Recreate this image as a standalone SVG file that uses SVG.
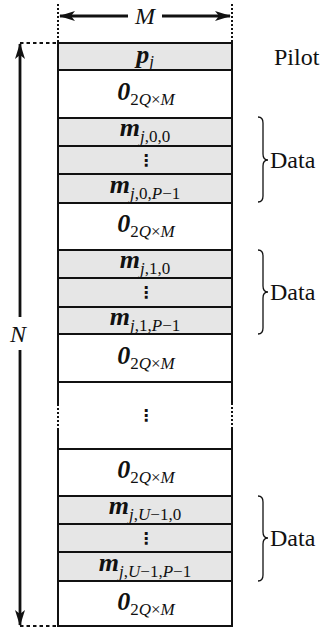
<svg xmlns="http://www.w3.org/2000/svg" width="326" height="629" viewBox="0 0 326 629">
<style>
.row{stroke:#111;stroke-width:2}
.g{fill:#e6e6e6}
.w{fill:#fff}
.side{stroke:#111;stroke-width:2;fill:none}
.dot{stroke:#111;stroke-width:2;fill:none;stroke-dasharray:2 2}
.dash{stroke:#111;stroke-width:1.8;fill:none;stroke-dasharray:3.5 3}
.arr{stroke:#111;stroke-width:2.8;fill:none;marker-end:url(#ah)}
.brace{stroke:#111;stroke-width:1.3;fill:none}
text{font-family:"Liberation Serif","Times New Roman",serif;fill:#111}
.lbl{font-size:24px}
.it{font-style:italic}
.b{font-weight:bold;font-style:italic;font-size:26px}
.s{font-style:italic;font-size:17px;font-weight:normal}
.u{font-style:normal}
.vd{font-family:"DejaVu Sans",sans-serif;font-size:16px;font-weight:bold}
</style>
<defs>
<marker id="ah" viewBox="0 0 16 10" refX="15" refY="5" markerWidth="16" markerHeight="10" orient="auto" markerUnits="userSpaceOnUse">
<path d="M0,0 L16,5 L0,10 L4,5 z" fill="#111"/>
</marker>
</defs>
<g id="connectors">
<path class="dot" d="M58,4 V43 M232,4 V43"/>
<path class="dash" d="M20,43 H58 M20,626 H58"/>
<path class="arr" d="M128,16 H60"/>
<path class="arr" d="M162,16 H230"/>
<path class="arr" d="M20,317 V44"/>
<path class="arr" d="M20,350 V625"/>
</g>
<g id="labels">
<text class="lbl it" x="18" y="342" text-anchor="middle">N</text>
<text class="lbl it" x="145" y="24" text-anchor="middle">M</text>
</g>
<g id="pilot">
<rect class="row g" x="58" y="43" width="174" height="27"/>
<text x="145" y="63" text-anchor="middle"><tspan class="b">p</tspan><tspan class="s" dy="4">j</tspan></text>
</g>
<g id="zero1">
<rect class="row w" x="58" y="70" width="174" height="48"/>
<text x="146" y="100" text-anchor="middle"><tspan class="b">0</tspan><tspan class="s" dy="5"><tspan class="u">2</tspan>Q<tspan class="u">×</tspan>M</tspan></text>
</g>
<g id="m00">
<rect class="row g" x="58" y="118" width="174" height="28"/>
<text x="145" y="136" text-anchor="middle"><tspan class="b">m</tspan><tspan class="s" dy="6">j<tspan class="u">,0,0</tspan></tspan></text>
</g>
<g id="vd0">
<rect class="row g" x="58" y="146" width="174" height="28"/>
<text class="vd" x="146" y="166" text-anchor="middle">⋮</text>
</g>
<g id="m0P">
<rect class="row g" x="58" y="174" width="174" height="29"/>
<text x="145" y="193" text-anchor="middle"><tspan class="b">m</tspan><tspan class="s" dy="6">j<tspan class="u">,0,</tspan>P<tspan class="u">−1</tspan></tspan></text>
</g>
<g id="zero2">
<rect class="row w" x="58" y="203" width="174" height="47"/>
<text x="146" y="232" text-anchor="middle"><tspan class="b">0</tspan><tspan class="s" dy="5"><tspan class="u">2</tspan>Q<tspan class="u">×</tspan>M</tspan></text>
</g>
<g id="m10">
<rect class="row g" x="58" y="250" width="174" height="28"/>
<text x="145" y="268" text-anchor="middle"><tspan class="b">m</tspan><tspan class="s" dy="6">j<tspan class="u">,1,0</tspan></tspan></text>
</g>
<g id="vd1">
<rect class="row g" x="58" y="278" width="174" height="29"/>
<text class="vd" x="146" y="298" text-anchor="middle">⋮</text>
</g>
<g id="m1P">
<rect class="row g" x="58" y="307" width="174" height="27"/>
<text x="145" y="325" text-anchor="middle"><tspan class="b">m</tspan><tspan class="s" dy="6">j<tspan class="u">,1,</tspan>P<tspan class="u">−1</tspan></tspan></text>
</g>
<g id="zero3">
<rect class="row w" x="58" y="334" width="174" height="48"/>
<text x="146" y="364" text-anchor="middle"><tspan class="b">0</tspan><tspan class="s" dy="5"><tspan class="u">2</tspan>Q<tspan class="u">×</tspan>M</tspan></text>
</g>
<g id="gap">
<rect x="58" y="382" width="174" height="67" fill="#fff"/>
<path class="side" d="M58,381 V404 M58,429 V449 M232,381 V403 M232,428 V449 M57,382 H233"/>
<path class="dot" d="M58,404 V429 M232,403 V428"/>
<text class="vd" x="146" y="421" text-anchor="middle">⋮</text>
</g>
<g id="zero4">
<rect class="row w" x="58" y="449" width="174" height="47"/>
<text x="146" y="478" text-anchor="middle"><tspan class="b">0</tspan><tspan class="s" dy="5"><tspan class="u">2</tspan>Q<tspan class="u">×</tspan>M</tspan></text>
</g>
<g id="mU0">
<rect class="row g" x="58" y="496" width="174" height="28"/>
<text x="145" y="514" text-anchor="middle"><tspan class="b">m</tspan><tspan class="s" dy="6">j<tspan class="u">,</tspan>U<tspan class="u">−1,0</tspan></tspan></text>
</g>
<g id="vdU">
<rect class="row g" x="58" y="524" width="174" height="28"/>
<text class="vd" x="146" y="544" text-anchor="middle">⋮</text>
</g>
<g id="mUP">
<rect class="row g" x="58" y="552" width="174" height="29"/>
<text x="145" y="571" text-anchor="middle"><tspan class="b">m</tspan><tspan class="s" dy="6">j<tspan class="u">,</tspan>U<tspan class="u">−1,</tspan>P<tspan class="u">−1</tspan></tspan></text>
</g>
<g id="zero5">
<rect class="row w" x="58" y="581" width="174" height="45"/>
<text x="146" y="610" text-anchor="middle"><tspan class="b">0</tspan><tspan class="s" dy="5"><tspan class="u">2</tspan>Q<tspan class="u">×</tspan>M</tspan></text>
</g>
<g id="pilot-label">
<text class="lbl" x="274" y="65">Pilot</text>
</g>
<g id="data0">
<path class="brace" d="M258,117 Q263,117 263,123 V154 Q263,160 268,160 Q263,160 263,166 V196 Q263,202 258,202"/>
<text class="lbl" x="270" y="168">Data</text>
</g>
<g id="data1">
<path class="brace" d="M258,250 Q263,250 263,256 V286 Q263,292 268,292 Q263,292 263,298 V328 Q263,334 258,334"/>
<text class="lbl" x="270" y="300">Data</text>
</g>
<g id="dataU">
<path class="brace" d="M258,496 Q263,496 263,502 V532 Q263,538 268,538 Q263,538 263,544 V575 Q263,581 258,581"/>
<text class="lbl" x="270" y="546">Data</text>
</g>
</svg>
